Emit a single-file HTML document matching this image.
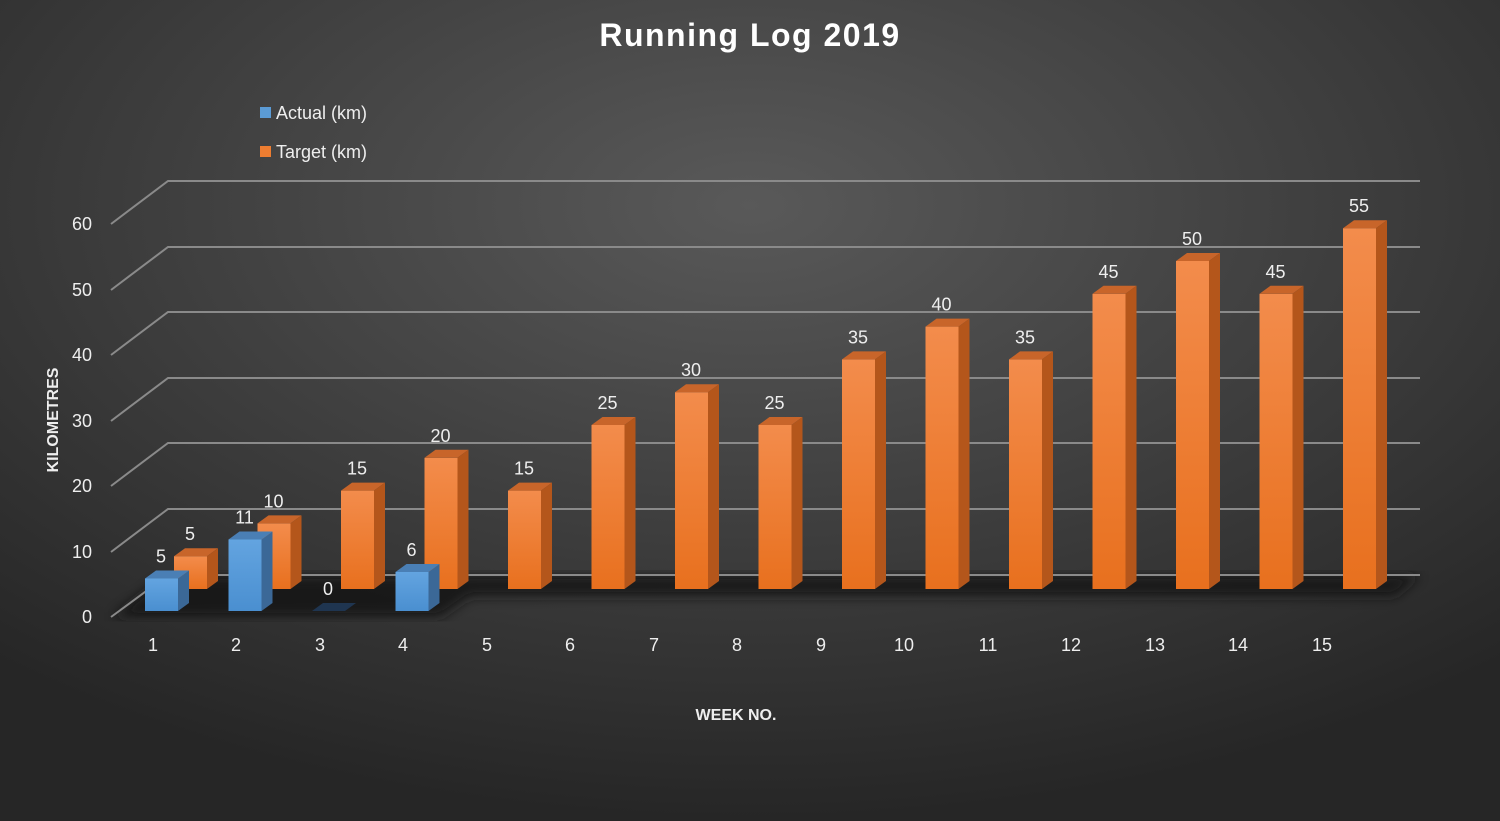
<!DOCTYPE html>
<html><head><meta charset="utf-8"><style>
html,body{margin:0;padding:0;width:1500px;height:821px;overflow:hidden;background:#333;}
svg{display:block;font-family:"Liberation Sans",sans-serif;}
</style></head><body>
<svg width="1500" height="821" viewBox="0 0 1500 821" xmlns="http://www.w3.org/2000/svg">
<defs>
<radialGradient id="bg" cx="0.5" cy="0.25" r="0.75">
<stop offset="0" stop-color="#595959"/><stop offset="1" stop-color="#262626"/></radialGradient>
<linearGradient id="og" x1="0" y1="0" x2="0" y2="1"><stop offset="0" stop-color="#f38c4c"/><stop offset="1" stop-color="#e8701e"/></linearGradient>
<linearGradient id="bgr" x1="0" y1="0" x2="0" y2="1"><stop offset="0" stop-color="#63a4e0"/><stop offset="1" stop-color="#4a8fd0"/></linearGradient>
<filter id="blur"><feGaussianBlur stdDeviation="6"/></filter>
<g id="od"></g>
</defs>
<rect width="1500" height="821" fill="url(#bg)"/>
<text x="750" y="46" text-anchor="middle" font-size="32" font-weight="bold" fill="#fff" letter-spacing="1.5">Running Log 2019</text>
<rect x="260" y="107" width="11" height="11" fill="#5b9bd5"/>
<text x="276" y="119" font-size="18" fill="#eee">Actual (km)</text>
<rect x="260" y="146" width="11" height="11" fill="#ed7d31"/>
<text x="276" y="158" font-size="18" fill="#eee">Target (km)</text>
<!-- floor shadow -->
<polygon points="167,575 1420,575 1395,596 470,596 440,617 113,617" fill="#151515" filter="url(#blur)" opacity="0.9"/>
<!-- gridlines -->
<g stroke="#8a8a8a" stroke-width="2" fill="none">
<polyline points="111,224 168,181 1420,181"/>
<polyline points="111,290 168,247 1420,247"/>
<polyline points="111,355 168,312 1420,312"/>
<polyline points="111,421 168,378 1420,378"/>
<polyline points="111,486 168,443 1420,443"/>
<polyline points="111,552 168,509 1420,509"/>
<polyline points="111,617 168,575 1420,575"/>
</g>
<g font-size="18" fill="#eee" text-anchor="end">
<text x="92" y="230">60</text><text x="92" y="296">50</text><text x="92" y="361">40</text>
<text x="92" y="427">30</text><text x="92" y="492">20</text><text x="92" y="558">10</text><text x="92" y="623">0</text>
</g>
<text transform="translate(58,420) rotate(-90)" text-anchor="middle" font-size="16" font-weight="bold" fill="#eee">KILOMETRES</text>
<text x="736" y="720" text-anchor="middle" font-size="16" font-weight="bold" fill="#eee">WEEK NO.</text>
<g font-size="18" fill="#eee" text-anchor="middle">
<text x="153" y="651">1</text><text x="236" y="651">2</text><text x="320" y="651">3</text><text x="403" y="651">4</text><text x="487" y="651">5</text><text x="570" y="651">6</text><text x="654" y="651">7</text><text x="737" y="651">8</text><text x="821" y="651">9</text><text x="904" y="651">10</text><text x="988" y="651">11</text><text x="1071" y="651">12</text><text x="1155" y="651">13</text><text x="1238" y="651">14</text><text x="1322" y="651">15</text>
</g>
<!-- orange bars -->
<g font-size="18" fill="#eee" text-anchor="middle">
<g transform="translate(174,556.2)"><rect width="33" height="32.8" fill="url(#og)"/><polygon points="0,0 11,-8 44,-8 33,0" fill="#c8652a"/><polygon points="33,0 44,-8 44,24.8 33,32.8" fill="#b4561b"/><text x="16" y="-16">5</text></g>
<g transform="translate(257.5,523.4)"><rect width="33" height="65.6" fill="url(#og)"/><polygon points="0,0 11,-8 44,-8 33,0" fill="#c8652a"/><polygon points="33,0 44,-8 44,57.6 33,65.6" fill="#b4561b"/><text x="16" y="-16">10</text></g>
<g transform="translate(341,490.6)"><rect width="33" height="98.4" fill="url(#og)"/><polygon points="0,0 11,-8 44,-8 33,0" fill="#c8652a"/><polygon points="33,0 44,-8 44,90.4 33,98.4" fill="#b4561b"/><text x="16" y="-16">15</text></g>
<g transform="translate(424.5,457.8)"><rect width="33" height="131.2" fill="url(#og)"/><polygon points="0,0 11,-8 44,-8 33,0" fill="#c8652a"/><polygon points="33,0 44,-8 44,123.2 33,131.2" fill="#b4561b"/><text x="16" y="-16">20</text></g>
<g transform="translate(508,490.6)"><rect width="33" height="98.4" fill="url(#og)"/><polygon points="0,0 11,-8 44,-8 33,0" fill="#c8652a"/><polygon points="33,0 44,-8 44,90.4 33,98.4" fill="#b4561b"/><text x="16" y="-16">15</text></g>
<g transform="translate(591.5,425)"><rect width="33" height="164" fill="url(#og)"/><polygon points="0,0 11,-8 44,-8 33,0" fill="#c8652a"/><polygon points="33,0 44,-8 44,156 33,164" fill="#b4561b"/><text x="16" y="-16">25</text></g>
<g transform="translate(675,392.2)"><rect width="33" height="196.8" fill="url(#og)"/><polygon points="0,0 11,-8 44,-8 33,0" fill="#c8652a"/><polygon points="33,0 44,-8 44,188.8 33,196.8" fill="#b4561b"/><text x="16" y="-16">30</text></g>
<g transform="translate(758.5,425)"><rect width="33" height="164" fill="url(#og)"/><polygon points="0,0 11,-8 44,-8 33,0" fill="#c8652a"/><polygon points="33,0 44,-8 44,156 33,164" fill="#b4561b"/><text x="16" y="-16">25</text></g>
<g transform="translate(842,359.4)"><rect width="33" height="229.6" fill="url(#og)"/><polygon points="0,0 11,-8 44,-8 33,0" fill="#c8652a"/><polygon points="33,0 44,-8 44,221.6 33,229.6" fill="#b4561b"/><text x="16" y="-16">35</text></g>
<g transform="translate(925.5,326.6)"><rect width="33" height="262.4" fill="url(#og)"/><polygon points="0,0 11,-8 44,-8 33,0" fill="#c8652a"/><polygon points="33,0 44,-8 44,254.4 33,262.4" fill="#b4561b"/><text x="16" y="-16">40</text></g>
<g transform="translate(1009,359.4)"><rect width="33" height="229.6" fill="url(#og)"/><polygon points="0,0 11,-8 44,-8 33,0" fill="#c8652a"/><polygon points="33,0 44,-8 44,221.6 33,229.6" fill="#b4561b"/><text x="16" y="-16">35</text></g>
<g transform="translate(1092.5,293.8)"><rect width="33" height="295.2" fill="url(#og)"/><polygon points="0,0 11,-8 44,-8 33,0" fill="#c8652a"/><polygon points="33,0 44,-8 44,287.2 33,295.2" fill="#b4561b"/><text x="16" y="-16">45</text></g>
<g transform="translate(1176,261)"><rect width="33" height="328" fill="url(#og)"/><polygon points="0,0 11,-8 44,-8 33,0" fill="#c8652a"/><polygon points="33,0 44,-8 44,320 33,328" fill="#b4561b"/><text x="16" y="-16">50</text></g>
<g transform="translate(1259.5,293.8)"><rect width="33" height="295.2" fill="url(#og)"/><polygon points="0,0 11,-8 44,-8 33,0" fill="#c8652a"/><polygon points="33,0 44,-8 44,287.2 33,295.2" fill="#b4561b"/><text x="16" y="-16">45</text></g>
<g transform="translate(1343,228.2)"><rect width="33" height="360.8" fill="url(#og)"/><polygon points="0,0 11,-8 44,-8 33,0" fill="#c8652a"/><polygon points="33,0 44,-8 44,352.8 33,360.8" fill="#b4561b"/><text x="16" y="-16">55</text></g>
</g>
<!-- blue bars -->
<g font-size="18" fill="#eee" text-anchor="middle">
<g transform="translate(145,578.5)"><rect width="33" height="32.5" fill="url(#bgr)"/><polygon points="0,0 11,-8 44,-8 33,0" fill="#4a7fb5"/><polygon points="33,0 44,-8 44,24.5 33,32.5" fill="#3b6897"/><text x="16" y="-16">5</text></g>
<g transform="translate(228.5,539.5)"><rect width="33" height="71.5" fill="url(#bgr)"/><polygon points="0,0 11,-8 44,-8 33,0" fill="#4a7fb5"/><polygon points="33,0 44,-8 44,63.5 33,71.5" fill="#3b6897"/><text x="16" y="-16">11</text></g>
<g transform="translate(312,611)"><polygon points="0,0 11,-8 44,-8 33,0" fill="#1f3550"/><text x="16" y="-16">0</text></g>
<g transform="translate(395.5,572)"><rect width="33" height="39" fill="url(#bgr)"/><polygon points="0,0 11,-8 44,-8 33,0" fill="#4a7fb5"/><polygon points="33,0 44,-8 44,31 33,39" fill="#3b6897"/><text x="16" y="-16">6</text></g>
</g>
</svg>
</body></html>
